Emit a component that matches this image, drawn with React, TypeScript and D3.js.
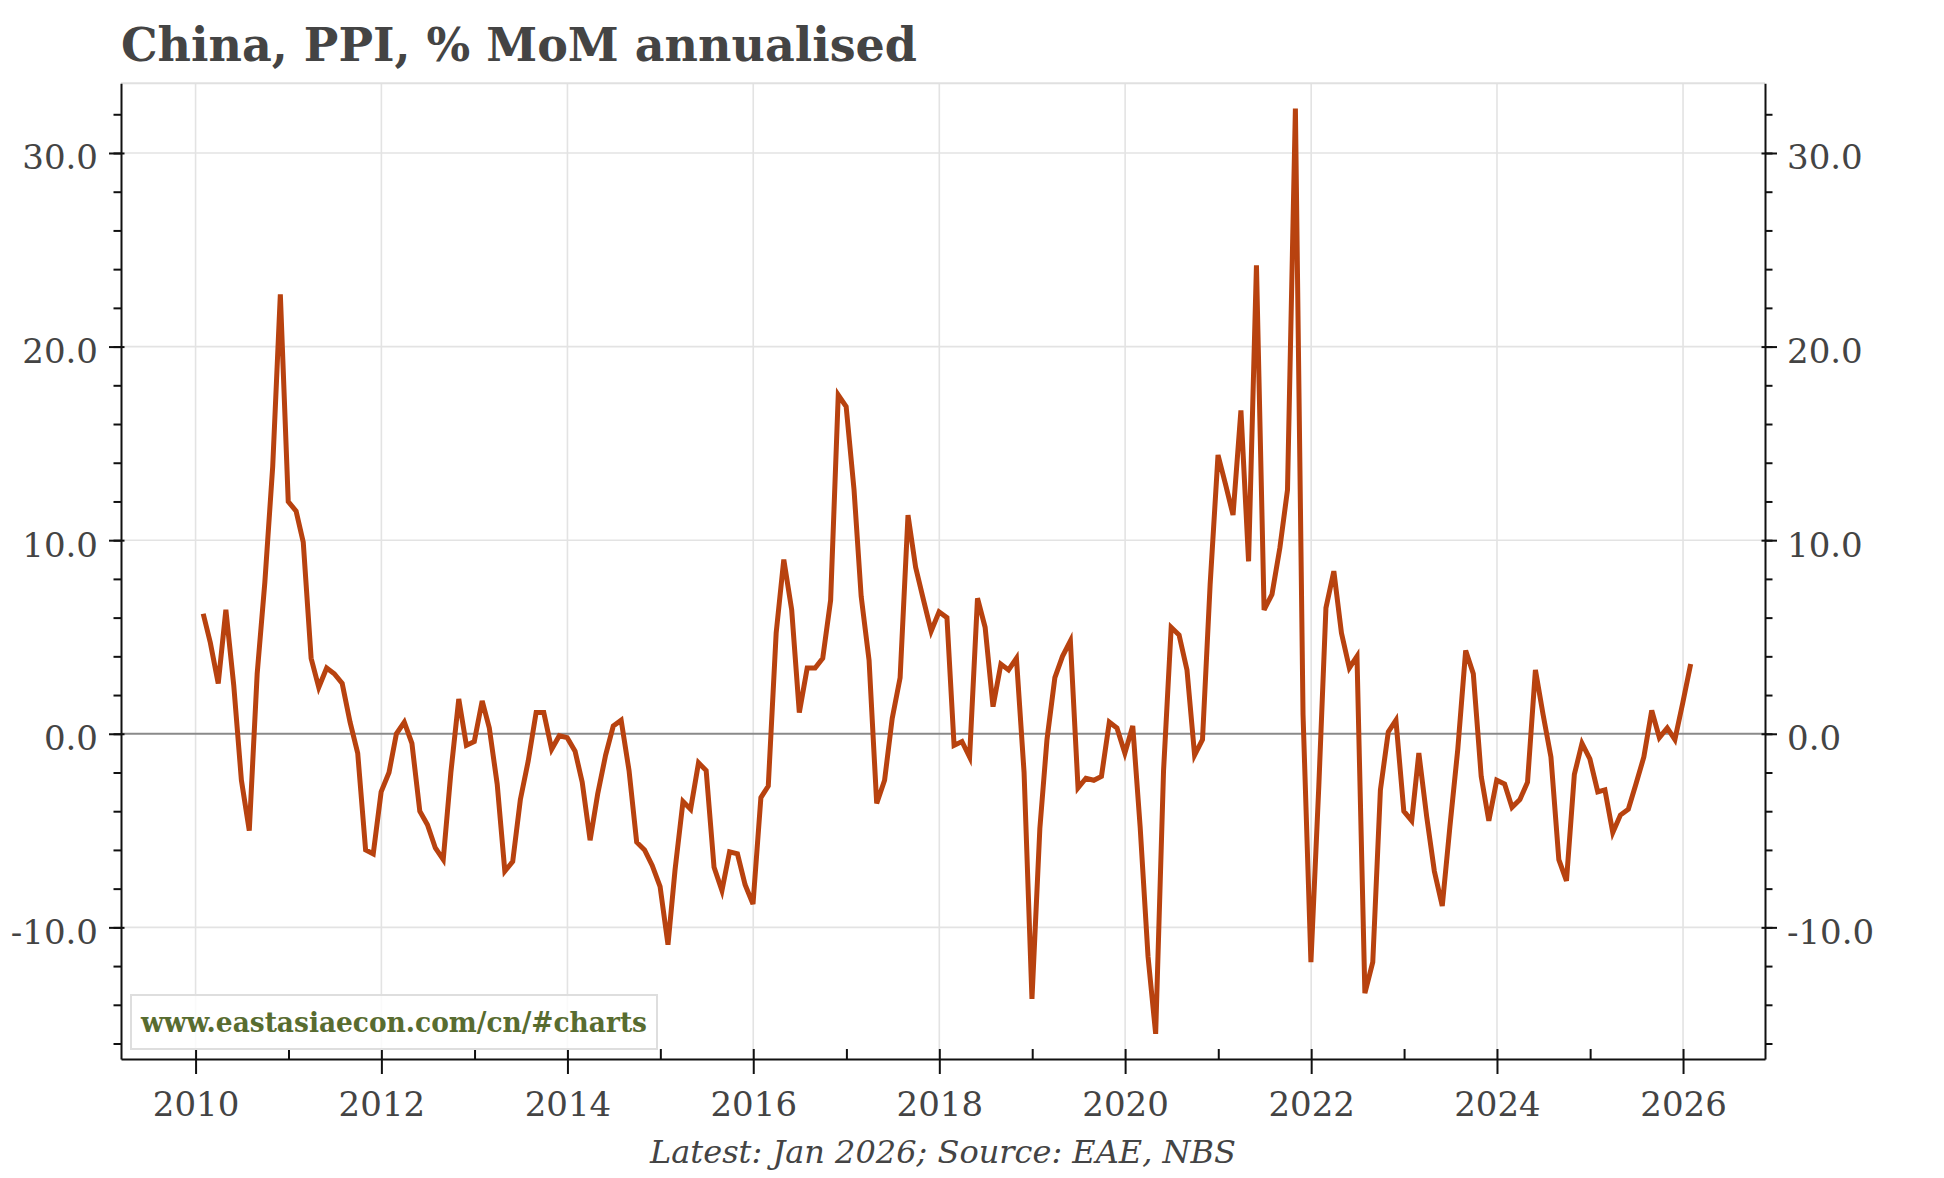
"use strict";

import * as d3 from 'd3';
import * as React from 'react';
import { Component } from 'react';

// China PPI, % MoM annualised, monthly, Jan 2010 .. Jan 2026
const ppi2010_2011 = [
  6.2, 4.7, 2.6, 6.4, 2.5, -2.4, -5.0, 3.1, 7.8, 13.8, 22.7, 12.0,
  11.5, 9.9, 3.9, 2.4, 3.4, 3.1, 2.6, 0.6, -1.0, -6.0, -6.2, -3.0
];
const ppi2012_2013 = [
  -2.0, 0.0, 0.6, -0.5, -4.0, -4.7, -5.9, -6.5, -2.0, 1.8, -0.6, -0.4,
  1.7, 0.3, -2.6, -7.1, -6.6, -3.4, -1.4, 1.1, 1.1, -0.8, -0.1, -0.2
];
const ppi2014_2015 = [
  -0.9, -2.5, -5.5, -3.1, -1.1, 0.4, 0.7, -1.9, -5.6, -6.0, -6.8, -7.9,
  -10.9, -7.0, -3.5, -3.9, -1.5, -1.9, -6.9, -8.1, -6.1, -6.2, -7.8, -8.8
];
const ppi2016_2017 = [
  -3.3, -2.7, 5.2, 9.0, 6.4, 1.1, 3.4, 3.4, 3.9, 6.9, 17.5, 16.9,
  12.6, 7.1, 3.8, -3.6, -2.4, 0.8, 2.9, 11.3, 8.6, 6.9, 5.3, 6.3
];
const ppi2018_2019 = [
  6.0, -0.6, -0.4, -1.2, 7.0, 5.5, 1.4, 3.6, 3.3, 3.9, -2.0, -13.7,
  -4.9, -0.3, 2.9, 4.0, 4.8, -2.8, -2.3, -2.4, -2.2, 0.6, 0.3, -1.0
];
const ppi2020_2021 = [
  0.4, -4.8, -11.5, -15.5, -1.9, 5.5, 5.1, 3.3, -1.1, -0.3, 7.7, 14.4,
  12.8, 11.3, 16.7, 8.9, 24.2, 6.4, 7.2, 9.6, 12.6, 32.3, 1.0, -11.8
];
const ppi2022_2023 = [
  -2.7, 6.5, 8.4, 5.2, 3.4, 4.0, -13.4, -11.8, -2.9, 0.1, 0.7, -4.0,
  -4.5, -1.0, -4.3, -7.1, -8.9, -4.8, -0.8, 4.3, 3.1, -2.2, -4.5, -2.4
];
const ppi2024_2026 = [
  -2.6, -3.8, -3.4, -2.5, 3.3, 1.0, -1.2, -6.5, -7.6, -2.1, -0.5, -1.3,
  -3.0, -2.9, -5.1, -4.2, -3.9, -2.6, -1.2, 1.2, -0.2, 0.3, -0.3, 1.6,
  3.6
];

const ppiMoM = [
  ...ppi2010_2011, ...ppi2012_2013, ...ppi2014_2015, ...ppi2016_2017,
  ...ppi2018_2019, ...ppi2020_2021, ...ppi2022_2023, ...ppi2024_2026
];

// month-end dates, first observation Jan 2010
const firstYear = 2010;

const xTickYears = [2010, 2012, 2014, 2016, 2018, 2020, 2022, 2024, 2026];
const xMinorYears = [2010, 2011, 2012, 2013, 2014, 2015, 2016, 2017, 2018,
  2019, 2020, 2021, 2022, 2023, 2024, 2025, 2026];
const yMajorTicks = [-10, 0, 10, 20, 30];
const yMinorTicks = [-16, -14, -12, -10, -8, -6, -4, -2, 0, 2, 4, 6, 8, 10,
  12, 14, 16, 18, 20, 22, 24, 26, 28, 30, 32];

const titleText = 'China, PPI, % MoM annualised';
const sourceText = 'Latest: Jan 2026; Source: EAE, NBS';
const watermarkText = 'www.eastasiaecon.com/cn/#charts';

const serif = "'DejaVu Serif', 'Liberation Serif', serif";

class PpiChart extends Component {

  private chartElement: any;

  componentDidMount() {
    this.renderChart();
  }

  componentDidUpdate() {
    this.renderChart();
  }

  renderChart() {
    const plot = { left: 121, right: 1765, top: 83.3, bottom: 1059 };
    const axisColor = '#111';
    const textColor = '#444';

    let svg = d3.select(this.chartElement);
    svg.selectAll('*').remove();

    const dates = ppiMoM.map((_, i) => new Date(firstYear, i + 1, 0));

    const x = d3.scaleTime()
      .domain([new Date(2009, 2, 14), new Date(2026, 10, 19)])
      .range([plot.left, plot.right]);
    const y = d3.scaleLinear()
      .domain([-16.8, 33.6])
      .range([plot.bottom, plot.top]);

    // grid
    const grid = svg.append('g');
    grid.selectAll('.hgrid')
      .data(yMajorTicks.filter(v => v !== 0))
      .enter()
      .append('line')
      .attr('x1', plot.left).attr('x2', plot.right)
      .attr('y1', d => y(d)).attr('y2', d => y(d))
      .attr('stroke', '#e3e3e3').attr('stroke-width', 1.6);
    grid.selectAll('.vgrid')
      .data(xTickYears)
      .enter()
      .append('line')
      .attr('x1', d => x(new Date(d, 0, 1))).attr('x2', d => x(new Date(d, 0, 1)))
      .attr('y1', plot.top).attr('y2', plot.bottom)
      .attr('stroke', '#e3e3e3').attr('stroke-width', 1.6);
    grid.append('line')
      .attr('x1', plot.left).attr('x2', plot.right)
      .attr('y1', plot.top).attr('y2', plot.top)
      .attr('stroke', '#e0e0e0').attr('stroke-width', 2);

    // zero line
    svg.append('line')
      .attr('x1', plot.left).attr('x2', plot.right)
      .attr('y1', y(0)).attr('y2', y(0))
      .attr('stroke', '#8a8a8a').attr('stroke-width', 2);

    // the series
    const line = d3.line<number>()
      .x((d, i) => x(dates[i]))
      .y(d => y(d));

    svg.append('path')
      .datum(ppiMoM)
      .attr('d', line)
      .attr('fill', 'none')
      .attr('stroke', '#b8420f')
      .attr('stroke-width', 5);

    const styleAxis = (g: any) => {
      g.attr('font-family', serif).attr('font-size', 34);
      g.selectAll('line').attr('stroke', axisColor).attr('stroke-width', 2);
      g.selectAll('.domain').attr('stroke', axisColor).attr('stroke-width', 2);
      g.selectAll('text').attr('fill', textColor);
    };

    // x axis
    svg.append('g')
      .attr('transform', 'translate(0,' + plot.bottom + ')')
      .call(d3.axisTop(x).tickValues(xMinorYears.map(d => new Date(d, 0, 1))).tickSize(10).tickFormat(() => ''))
      .call(g => g.select('.domain').remove())
      .call(styleAxis);
    svg.append('g')
      .attr('transform', 'translate(0,' + plot.bottom + ')')
      .call(d3.axisBottom(x).tickValues(xTickYears.map(d => new Date(d, 0, 1)))
        .tickSizeInner(15).tickSizeOuter(0).tickFormat(d3.timeFormat('%Y') as any))
      .call(styleAxis)
      .call(g => g.selectAll('text').attr('y', 57).attr('dy', 0));

    const fmt = (d: any) => (+d).toFixed(1);

    // left axis
    svg.append('g')
      .attr('transform', 'translate(' + plot.left + ',0)')
      .call(d3.axisLeft(y).tickValues(yMinorTicks).tickSize(7.5).tickFormat(() => ''))
      .call(g => g.select('.domain').remove())
      .call(styleAxis);
    svg.append('g')
      .attr('transform', 'translate(' + plot.left + ',0)')
      .call(d3.axisRight(y).tickValues(yMajorTicks).tickSize(3.5).tickFormat(() => ''))
      .call(g => g.select('.domain').remove())
      .call(styleAxis);
    svg.append('g')
      .attr('transform', 'translate(' + plot.left + ',0)')
      .call(d3.axisLeft(y).tickValues(yMajorTicks).tickSizeInner(12).tickSizeOuter(0).tickFormat(fmt))
      .call(styleAxis)
      .call(g => g.selectAll('text').attr('x', -23).attr('dy', 0).attr('y', 16));

    // right axis
    svg.append('g')
      .attr('transform', 'translate(' + plot.right + ',0)')
      .call(d3.axisRight(y).tickValues(yMinorTicks).tickSize(7.5).tickFormat(() => ''))
      .call(g => g.select('.domain').remove())
      .call(styleAxis);
    svg.append('g')
      .attr('transform', 'translate(' + plot.right + ',0)')
      .call(d3.axisLeft(y).tickValues(yMajorTicks).tickSize(3.5).tickFormat(() => ''))
      .call(g => g.select('.domain').remove())
      .call(styleAxis);
    svg.append('g')
      .attr('transform', 'translate(' + plot.right + ',0)')
      .call(d3.axisRight(y).tickValues(yMajorTicks).tickSizeInner(12).tickSizeOuter(0).tickFormat(fmt))
      .call(styleAxis)
      .call(g => g.selectAll('text').attr('x', 22).attr('dy', 0).attr('y', 16));

    // watermark box
    svg.append('rect')
      .attr('x', 131).attr('y', 995)
      .attr('width', 526).attr('height', 54)
      .attr('fill', '#fff').attr('fill-opacity', 0.8)
      .attr('stroke', '#dedede').attr('stroke-width', 2);
    svg.append('text')
      .attr('x', 141).attr('y', 1032)
      .attr('font-family', serif).attr('font-weight', 'bold').attr('font-size', 28)
      .attr('fill', '#586c30')
      .attr('textLength', 506).attr('lengthAdjust', 'spacingAndGlyphs')
      .text(watermarkText);

    // title + source
    svg.append('text')
      .attr('x', plot.left).attr('y', 61)
      .attr('font-family', serif).attr('font-weight', 'bold').attr('font-size', 46)
      .attr('fill', textColor)
      .text(titleText);

    svg.append('text')
      .attr('x', (plot.left + plot.right) / 2).attr('y', 1163)
      .attr('text-anchor', 'middle')
      .attr('font-family', serif).attr('font-style', 'italic').attr('font-size', 32)
      .attr('fill', textColor)
      .text(sourceText);
  }

  render() {
    return (
      <svg
        ref={el => { this.chartElement = el; }}
        width={1944}
        height={1178}
        style={{ position: 'absolute', left: 0, top: 0, background: '#fff', display: 'block' }}
      />
    );
  }
}

export default function App() {
  return <PpiChart />;
}
